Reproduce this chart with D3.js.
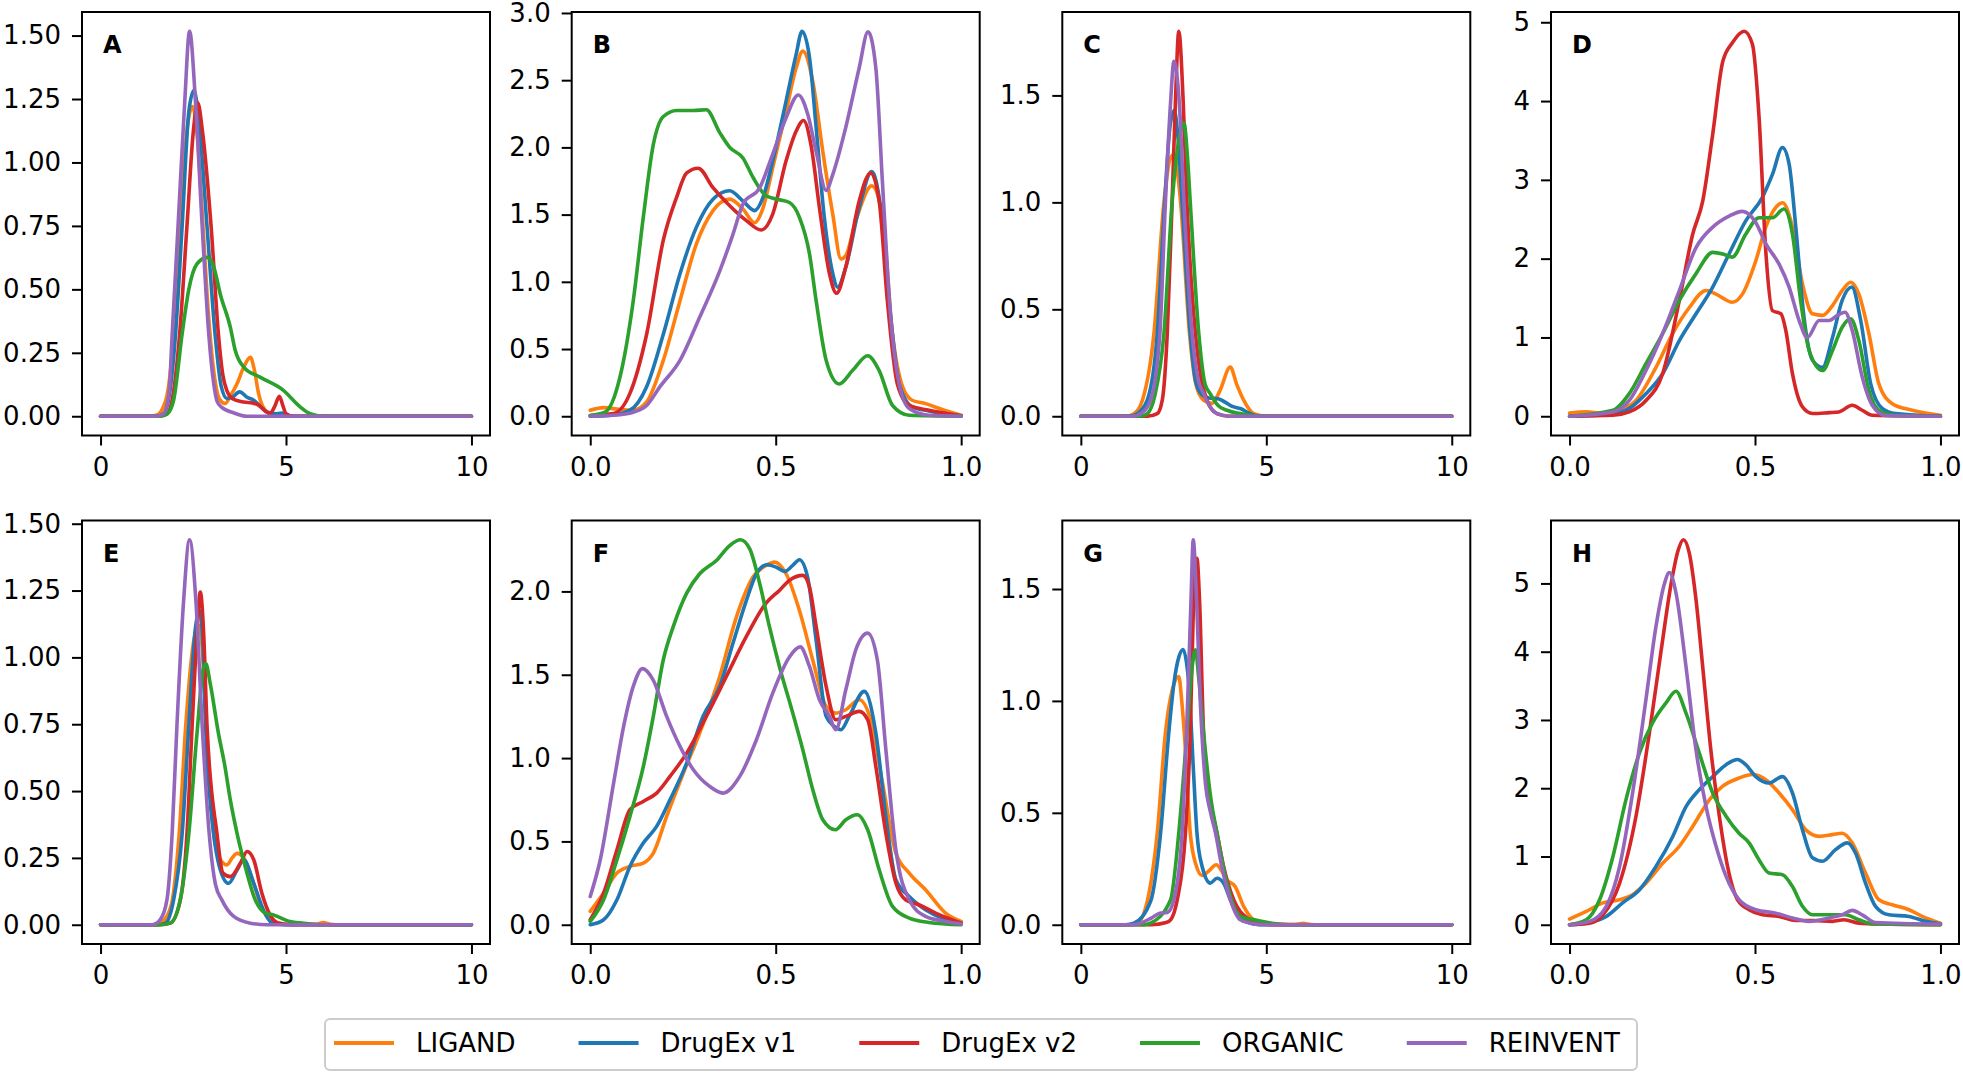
<!DOCTYPE html>
<html><head><meta charset="utf-8">
<script src="https://cdn.jsdelivr.net/npm/d3@7/dist/d3.min.js"></script>
<style>
body{margin:0;background:#fff;}
svg{display:block;}
text{font-family:"DejaVu Sans",sans-serif;fill:#000;}
</style>
</head><body>
<svg id="chart" width="1963" height="1074"></svg>
<script>
// ---------------- DATA ----------------
const seriesNames = ["LIGAND", "DrugEx v1", "DrugEx v2", "ORGANIC", "REINVENT"];
const seriesColors = ["#ff7f0e", "#1f77b4", "#d62728", "#2ca02c", "#9467bd"];
const panelLabels = ["A", "B", "C", "D", "E", "F", "G", "H"];
const xTicksWide = [0, 5, 10];
const xTicksUnit = [0.0, 0.5, 1.0];
const yTicksA = [0, 0.25, 0.5, 0.75, 1.0, 1.25, 1.5];
const yTicksB = [0, 0.5, 1.0, 1.5, 2.0, 2.5, 3.0];
const yTicksC = [0, 0.5, 1.0, 1.5];
const yTicksD = [0, 1, 2, 3, 4, 5];
const yTicksE = [0, 0.25, 0.5, 0.75, 1.0, 1.25, 1.5];
const yTicksF = [0, 0.5, 1.0, 1.5, 2.0];
const yTicksG = [0, 0.5, 1.0, 1.5];
const yTicksH = [0, 1, 2, 3, 4, 5];

// each panel: [LIGAND, DrugEx v1, DrugEx v2, ORGANIC, REINVENT], points are [x, density]
const dataA = [
  [[0,0],[1.3,0],[1.52,0.005],[1.7,0.04],[1.79,0.08],[1.93,0.25],[2.05,0.55],[2.2,0.9],[2.35,1.15],[2.48,1.22],[2.6,1.12],[2.75,0.78],[2.9,0.42],[3.05,0.18],[3.2,0.07],[3.36,0.05],[3.5,0.08],[3.68,0.128],[3.85,0.19],[4.04,0.232],[4.15,0.18],[4.26,0.09],[4.44,0.024],[4.7,0.003],[5,0],[10,0]],
  [[0,0],[1.5,0],[1.7,0.01],[1.85,0.08],[2.02,0.32],[2.2,0.75],[2.38,1.2],[2.52,1.284],[2.66,1.15],[2.87,0.75],[3.09,0.32],[3.25,0.12],[3.41,0.07],[3.55,0.075],[3.75,0.096],[3.95,0.075],[4.13,0.063],[4.3,0.04],[4.48,0.017],[4.75,0.01],[4.93,0.013],[5.1,0.002],[5.4,0],[10,0]],
  [[0,0],[1.6,0],[1.8,0.01],[1.95,0.08],[2.13,0.32],[2.33,0.75],[2.5,1.12],[2.62,1.235],[2.75,1.12],[2.98,0.75],[3.18,0.32],[3.3,0.16],[3.41,0.1],[3.55,0.07],[3.86,0.056],[4.1,0.052],[4.25,0.045],[4.45,0.02],[4.57,0.012],[4.7,0.04],[4.82,0.079],[4.92,0.04],[5.0,0.01],[5.2,0],[10,0]],
  [[0,0],[1.6,0],[1.8,0.01],[1.97,0.063],[2.2,0.325],[2.38,0.5],[2.6,0.6],[2.88,0.626],[3.05,0.59],[3.23,0.48],[3.5,0.35],[3.63,0.26],[3.86,0.194],[4.3,0.154],[4.93,0.102],[5.38,0.037],[5.65,0.01],[6,0],[10,0]],
  [[0,0],[1.5,0],[1.7,0.01],[1.85,0.1],[1.93,0.32],[2.09,0.75],[2.27,1.24],[2.40,1.517],[2.56,1.24],[2.74,0.75],[2.92,0.32],[3.05,0.13],[3.14,0.06],[3.27,0.035],[3.6,0.013],[3.95,0],[10,0]]
];
const dataB = [
  [[0,0.045],[0.036,0.064],[0.08,0.05],[0.116,0.045],[0.152,0.106],[0.197,0.416],[0.242,0.86],[0.286,1.28],[0.331,1.53],[0.376,1.615],[0.412,1.54],[0.443,1.44],[0.466,1.55],[0.492,1.85],[0.528,2.27],[0.555,2.59],[0.573,2.716],[0.6,2.49],[0.627,1.97],[0.654,1.5],[0.676,1.17],[0.689,1.195],[0.716,1.454],[0.759,1.714],[0.788,1.48],[0.815,0.61],[0.842,0.22],[0.868,0.119],[0.904,0.094],[0.949,0.05],[1.0,0.007]],
  [[0,0],[0.05,0.005],[0.107,0.045],[0.152,0.22],[0.197,0.61],[0.242,1.06],[0.286,1.405],[0.331,1.615],[0.376,1.677],[0.412,1.6],[0.443,1.53],[0.466,1.63],[0.492,1.9],[0.528,2.345],[0.555,2.69],[0.571,2.864],[0.591,2.67],[0.609,2.15],[0.631,1.48],[0.654,1.06],[0.667,0.96],[0.689,1.11],[0.725,1.55],[0.759,1.82],[0.783,1.55],[0.81,0.737],[0.833,0.24],[0.868,0.07],[0.913,0.04],[1.0,0.003]],
  [[0,0.005],[0.063,0.02],[0.107,0.17],[0.152,0.61],[0.197,1.31],[0.233,1.63],[0.26,1.81],[0.291,1.845],[0.331,1.7],[0.376,1.566],[0.421,1.455],[0.461,1.385],[0.492,1.504],[0.528,1.9],[0.555,2.12],[0.575,2.2],[0.595,2.02],[0.618,1.55],[0.645,1.06],[0.664,0.915],[0.689,1.11],[0.725,1.6],[0.756,1.81],[0.779,1.6],[0.801,0.86],[0.828,0.24],[0.86,0.08],[0.913,0.045],[1.0,0.003]],
  [[0,0.005],[0.04,0.03],[0.08,0.29],[0.116,0.86],[0.143,1.48],[0.17,2.02],[0.197,2.23],[0.233,2.275],[0.278,2.275],[0.313,2.28],[0.349,2.11],[0.376,2.0],[0.412,1.92],[0.439,1.776],[0.474,1.64],[0.51,1.61],[0.537,1.59],[0.564,1.48],[0.591,1.21],[0.609,0.86],[0.636,0.416],[0.671,0.24],[0.707,0.34],[0.748,0.45],[0.779,0.34],[0.815,0.08],[0.86,0.007],[1.0,0]],
  [[0,0],[0.063,0.007],[0.116,0.03],[0.152,0.08],[0.188,0.22],[0.242,0.416],[0.295,0.737],[0.349,1.08],[0.385,1.355],[0.412,1.58],[0.457,1.7],[0.492,1.95],[0.528,2.22],[0.561,2.39],[0.586,2.25],[0.609,1.97],[0.636,1.68],[0.654,1.8],[0.689,2.15],[0.725,2.59],[0.749,2.86],[0.77,2.59],[0.788,1.73],[0.81,0.737],[0.833,0.24],[0.86,0.057],[0.913,0.007],[1.0,0]]
];
const dataC = [
  [[0,0],[1.2,0],[1.43,0.012],[1.66,0.075],[1.97,0.386],[2.24,1.0],[2.4,1.2],[2.51,1.225],[2.6,1.15],[2.69,1.0],[2.93,0.386],[3.1,0.15],[3.31,0.075],[3.54,0.06],[3.75,0.12],[4.03,0.23],[4.2,0.15],[4.39,0.075],[4.66,0.012],[5,0],[10,0]],
  [[0,0],[1.3,0],[1.52,0.012],[1.79,0.075],[2.06,0.386],[2.26,1.0],[2.4,1.35],[2.52,1.43],[2.62,1.3],[2.73,1.0],[2.95,0.386],[3.1,0.16],[3.27,0.1],[3.45,0.085],[3.7,0.082],[3.9,0.065],[4.1,0.045],[4.3,0.036],[4.57,0.012],[4.8,0],[10,0]],
  [[0,0],[1.8,0],[2.06,0.012],[2.2,0.08],[2.33,0.386],[2.46,1.0],[2.55,1.47],[2.64,1.8],[2.76,1.47],[2.86,1.0],[3.09,0.386],[3.25,0.17],[3.4,0.075],[3.67,0.012],[4,0],[10,0]],
  [[0,0],[1.6,0],[1.79,0.012],[2.0,0.1],[2.24,0.386],[2.46,1.0],[2.65,1.3],[2.78,1.37],[2.88,1.2],[2.95,1.0],[3.18,0.386],[3.35,0.15],[3.49,0.105],[3.7,0.05],[3.94,0.028],[4.57,0.005],[5,0],[10,0]],
  [[0,0],[1.4,0],[1.61,0.012],[1.88,0.075],[2.13,0.386],[2.28,1.0],[2.42,1.47],[2.51,1.66],[2.6,1.58],[2.66,1.45],[2.78,1.0],[3.0,0.386],[3.15,0.18],[3.31,0.106],[3.5,0.04],[3.67,0.012],[4,0],[10,0]]
];
const dataD = [
  [[0,0.04],[0.045,0.055],[0.09,0.04],[0.135,0.076],[0.179,0.2],[0.233,0.62],[0.278,1.05],[0.323,1.38],[0.368,1.595],[0.395,1.55],[0.439,1.447],[0.466,1.55],[0.502,1.97],[0.529,2.4],[0.556,2.65],[0.574,2.71],[0.601,2.4],[0.628,1.68],[0.655,1.3],[0.682,1.28],[0.709,1.405],[0.735,1.595],[0.758,1.7],[0.78,1.55],[0.807,1.05],[0.834,0.41],[0.87,0.16],[0.924,0.076],[1.0,0.013]],
  [[0,0],[0.117,0.03],[0.161,0.1],[0.206,0.287],[0.251,0.54],[0.296,0.96],[0.341,1.3],[0.386,1.64],[0.43,2.06],[0.475,2.48],[0.52,2.78],[0.547,3.07],[0.574,3.41],[0.592,3.2],[0.61,2.4],[0.632,1.26],[0.655,0.71],[0.682,0.62],[0.709,1.0],[0.735,1.47],[0.761,1.64],[0.785,1.215],[0.812,0.41],[0.843,0.1],[0.879,0.034],[1.0,0]],
  [[0,0],[0.117,0.013],[0.161,0.055],[0.206,0.2],[0.251,0.54],[0.296,1.47],[0.332,2.31],[0.359,2.73],[0.386,3.58],[0.413,4.5],[0.439,4.74],[0.471,4.886],[0.493,4.72],[0.511,3.79],[0.529,2.1],[0.547,1.34],[0.57,1.3],[0.583,1.09],[0.601,0.54],[0.628,0.118],[0.655,0.034],[0.7,0.046],[0.726,0.055],[0.762,0.14],[0.789,0.076],[0.816,0.013],[1.0,0]],
  [[0,0],[0.117,0.076],[0.161,0.287],[0.206,0.667],[0.251,1.05],[0.296,1.47],[0.341,1.81],[0.386,2.08],[0.413,2.06],[0.439,2.02],[0.475,2.31],[0.511,2.52],[0.547,2.52],[0.578,2.63],[0.601,2.31],[0.623,1.47],[0.646,0.835],[0.682,0.58],[0.709,0.835],[0.735,1.13],[0.758,1.236],[0.78,0.96],[0.807,0.33],[0.834,0.076],[0.879,0.01],[1.0,0]],
  [[0,0],[0.117,0.055],[0.161,0.2],[0.206,0.58],[0.251,1.05],[0.296,1.595],[0.341,2.14],[0.386,2.4],[0.43,2.54],[0.466,2.6],[0.502,2.46],[0.529,2.19],[0.565,1.93],[0.592,1.64],[0.619,1.215],[0.641,1.0],[0.673,1.215],[0.7,1.215],[0.722,1.28],[0.743,1.32],[0.762,1.09],[0.789,0.5],[0.816,0.14],[0.852,0.01],[1.0,0]]
];
const dataE = [
  [[0,0],[1.4,0],[1.65,0.01],[1.9,0.07],[2.12,0.34],[2.3,0.75],[2.5,1.05],[2.64,1.12],[2.75,1.02],[2.85,0.75],[3.05,0.34],[3.2,0.25],[3.41,0.224],[3.55,0.25],[3.68,0.267],[3.86,0.25],[4.13,0.155],[4.3,0.08],[4.57,0.02],[5,0.003],[5.8,0.002],[6.0,0.008],[6.2,0.002],[6.5,0],[10,0]],
  [[0,0],[1.5,0],[1.75,0.006],[1.97,0.093],[2.2,0.34],[2.38,0.746],[2.55,1.1],[2.67,1.175],[2.75,1.08],[2.83,0.746],[3.05,0.34],[3.2,0.22],[3.45,0.155],[3.68,0.205],[3.86,0.243],[4.13,0.155],[4.39,0.056],[4.6,0.01],[5,0],[10,0]],
  [[0,0],[1.6,0],[1.88,0.006],[2.15,0.093],[2.33,0.34],[2.47,0.746],[2.6,1.09],[2.69,1.244],[2.78,1.09],[2.87,0.746],[3.14,0.34],[3.3,0.193],[3.5,0.18],[3.77,0.23],[3.95,0.274],[4.13,0.243],[4.35,0.118],[4.57,0.037],[4.8,0.006],[5.2,0],[10,0]],
  [[0,0],[1.6,0],[1.88,0.006],[2.15,0.093],[2.38,0.34],[2.6,0.715],[2.78,0.964],[2.84,0.976],[2.96,0.9],[3.18,0.715],[3.34,0.603],[3.5,0.466],[3.68,0.342],[3.9,0.218],[4.17,0.093],[4.44,0.044],[4.66,0.037],[5.11,0.012],[5.6,0.004],[6,0],[10,0]],
  [[0,0],[1.4,0],[1.61,0.019],[1.79,0.093],[1.93,0.34],[2.06,0.746],[2.24,1.213],[2.40,1.44],[2.57,1.213],[2.74,0.746],[2.93,0.34],[3.1,0.15],[3.27,0.093],[3.59,0.031],[4.04,0.006],[4.5,0],[10,0]]
];
const dataF = [
  [[0,0.08],[0.036,0.19],[0.072,0.31],[0.107,0.35],[0.143,0.37],[0.17,0.43],[0.206,0.65],[0.251,0.91],[0.295,1.15],[0.349,1.49],[0.394,1.846],[0.439,2.086],[0.474,2.156],[0.497,2.176],[0.528,2.106],[0.564,1.886],[0.6,1.587],[0.636,1.31],[0.662,1.27],[0.689,1.29],[0.725,1.35],[0.756,1.23],[0.788,0.85],[0.824,0.43],[0.86,0.31],[0.904,0.21],[0.958,0.07],[1.0,0.02]],
  [[0,0],[0.036,0.03],[0.072,0.15],[0.107,0.35],[0.143,0.49],[0.179,0.59],[0.215,0.75],[0.26,0.97],[0.304,1.25],[0.349,1.43],[0.385,1.69],[0.421,1.946],[0.448,2.106],[0.476,2.16],[0.501,2.146],[0.524,2.12],[0.546,2.156],[0.564,2.19],[0.586,2.086],[0.609,1.707],[0.636,1.25],[0.658,1.19],[0.676,1.17],[0.698,1.25],[0.739,1.4],[0.77,1.15],[0.797,0.65],[0.824,0.27],[0.86,0.17],[0.904,0.09],[1.0,0.01]],
  [[0,0.03],[0.036,0.19],[0.072,0.45],[0.107,0.69],[0.143,0.74],[0.179,0.79],[0.215,0.89],[0.26,1.03],[0.313,1.25],[0.367,1.49],[0.421,1.73],[0.474,1.93],[0.51,2.006],[0.537,2.066],[0.573,2.096],[0.591,2.026],[0.609,1.79],[0.636,1.43],[0.662,1.23],[0.689,1.25],[0.725,1.28],[0.748,1.23],[0.77,0.95],[0.797,0.55],[0.824,0.25],[0.85,0.15],[0.886,0.12],[0.931,0.07],[1.0,0.01]],
  [[0,0.02],[0.036,0.15],[0.072,0.39],[0.107,0.65],[0.143,0.948],[0.17,1.25],[0.197,1.59],[0.224,1.79],[0.26,1.99],[0.295,2.106],[0.34,2.186],[0.376,2.275],[0.405,2.31],[0.43,2.255],[0.457,2.046],[0.483,1.79],[0.51,1.55],[0.546,1.27],[0.573,1.05],[0.6,0.81],[0.627,0.63],[0.661,0.57],[0.689,0.63],[0.72,0.66],[0.748,0.57],[0.779,0.33],[0.815,0.11],[0.86,0.04],[0.913,0.014],[1.0,0]],
  [[0,0.17],[0.027,0.39],[0.063,0.85],[0.09,1.19],[0.116,1.43],[0.141,1.537],[0.17,1.467],[0.206,1.25],[0.242,1.07],[0.278,0.93],[0.322,0.83],[0.358,0.79],[0.403,0.89],[0.448,1.11],[0.492,1.39],[0.537,1.607],[0.566,1.667],[0.591,1.55],[0.618,1.35],[0.645,1.25],[0.662,1.17],[0.689,1.41],[0.716,1.65],[0.748,1.75],[0.774,1.59],[0.797,1.05],[0.824,0.45],[0.86,0.15],[0.904,0.05],[0.958,0.02],[1.0,0.005]]
];
const dataG = [
  [[0,0],[1.3,0],[1.52,0.007],[1.79,0.104],[2.06,0.41],[2.28,0.856],[2.5,1.07],[2.64,1.109],[2.72,1.0],[2.79,0.856],[2.95,0.41],[3.1,0.27],[3.27,0.22],[3.45,0.24],[3.65,0.268],[3.8,0.24],[3.94,0.2],[4.16,0.171],[4.39,0.082],[4.66,0.022],[5.0,0.005],[5.8,0.002],[6.0,0.006],[6.2,0.001],[6.5,0],[10,0]],
  [[0,0],[1.2,0],[1.43,0.007],[1.88,0.104],[2.15,0.41],[2.37,0.856],[2.51,1.079],[2.65,1.2],[2.76,1.23],[2.85,1.17],[2.91,1.079],[3.03,0.707],[3.13,0.41],[3.27,0.26],[3.49,0.186],[3.67,0.208],[3.85,0.186],[4.03,0.112],[4.3,0.037],[4.66,0.004],[5,0],[10,0]],
  [[0,0],[1.9,0],[2.3,0.01],[2.42,0.022],[2.6,0.112],[2.82,0.41],[2.95,0.856],[3.04,1.45],[3.13,1.637],[3.2,1.45],[3.31,0.856],[3.49,0.558],[3.67,0.41],[3.85,0.26],[4.12,0.112],[4.48,0.03],[4.83,0.007],[5.2,0],[10,0]],
  [[0,0],[1.7,0],[1.88,0.007],[2.42,0.112],[2.64,0.41],[2.86,0.856],[3.0,1.15],[3.09,1.228],[3.18,1.1],[3.31,0.856],[3.51,0.558],[3.67,0.41],[3.94,0.186],[4.3,0.037],[4.74,0.02],[5.2,0.005],[5.6,0],[10,0]],
  [[0,0],[1.4,0],[1.61,0.007],[1.9,0.03],[2.15,0.052],[2.33,0.055],[2.51,0.112],[2.73,0.41],[2.88,1.0],[2.97,1.45],[3.03,1.72],[3.12,1.45],[3.22,1.0],[3.36,0.63],[3.49,0.506],[3.63,0.41],[3.8,0.26],[4.03,0.112],[4.3,0.022],[4.66,0.004],[5,0],[10,0]]
];
const dataH = [
  [[0,0.083],[0.045,0.195],[0.09,0.32],[0.135,0.366],[0.17,0.44],[0.206,0.61],[0.251,0.9],[0.296,1.15],[0.332,1.44],[0.377,1.83],[0.413,2.03],[0.457,2.15],[0.493,2.2],[0.529,2.125],[0.565,1.93],[0.601,1.685],[0.637,1.39],[0.673,1.295],[0.709,1.32],[0.735,1.34],[0.762,1.2],[0.798,0.757],[0.834,0.366],[0.87,0.293],[0.915,0.22],[0.96,0.1],[1.0,0.024]],
  [[0,0],[0.054,0.034],[0.099,0.122],[0.143,0.32],[0.188,0.51],[0.233,0.855],[0.278,1.29],[0.314,1.73],[0.35,1.98],[0.386,2.17],[0.422,2.345],[0.453,2.42],[0.475,2.345],[0.502,2.17],[0.538,2.076],[0.574,2.17],[0.601,1.93],[0.628,1.39],[0.655,0.98],[0.682,0.93],[0.717,1.1],[0.749,1.2],[0.771,1.05],[0.798,0.61],[0.825,0.27],[0.861,0.146],[0.915,0.122],[0.96,0.05],[1.0,0.015]],
  [[0,0],[0.054,0.024],[0.09,0.146],[0.135,0.61],[0.179,1.586],[0.215,2.8],[0.247,4.02],[0.274,5.0],[0.293,5.49],[0.307,5.64],[0.323,5.44],[0.341,4.76],[0.359,3.78],[0.381,2.56],[0.404,1.586],[0.426,0.855],[0.453,0.366],[0.484,0.22],[0.52,0.146],[0.565,0.122],[0.61,0.063],[0.655,0.063],[0.709,0.05],[0.74,0.073],[0.78,0.024],[0.834,0.01],[1.0,0]],
  [[0,0],[0.045,0.073],[0.081,0.366],[0.117,1.0],[0.152,1.83],[0.188,2.51],[0.224,2.96],[0.26,3.25],[0.287,3.42],[0.314,3.1],[0.35,2.51],[0.386,1.93],[0.422,1.59],[0.457,1.34],[0.484,1.2],[0.511,0.95],[0.538,0.757],[0.574,0.733],[0.601,0.56],[0.628,0.27],[0.655,0.146],[0.7,0.146],[0.744,0.146],[0.78,0.073],[0.816,0.015],[1.0,0]],
  [[0,0],[0.054,0.049],[0.099,0.27],[0.135,0.855],[0.17,1.93],[0.206,3.3],[0.233,4.37],[0.256,5.0],[0.269,5.16],[0.287,4.86],[0.314,3.78],[0.341,2.56],[0.368,1.73],[0.395,1.15],[0.422,0.71],[0.457,0.366],[0.502,0.22],[0.556,0.17],[0.601,0.1],[0.646,0.05],[0.7,0.1],[0.735,0.146],[0.762,0.21],[0.789,0.146],[0.825,0.034],[1.0,0.01]]
];

// ---------------- LAYOUT ----------------
const panelData = [dataA, dataB, dataC, dataD, dataE, dataF, dataG, dataH];
const panelYTicks = [yTicksA, yTicksB, yTicksC, yTicksD, yTicksE, yTicksF, yTicksG, yTicksH];
const panelYFormat = [".2f", ".1f", ".1f", "d", ".2f", ".1f", ".1f", "d"];
const panelWide = [true, false, true, false, true, false, true, false];

const colLeft = [82, 571.7, 1062.3, 1551];
const rowTop = [12, 520.5];
const PW = 408, PH = 423.5;
const FONT = 26;

const svg = d3.select("#chart");

panelData.forEach((series, i) => {
  const col = i % 4, row = Math.floor(i / 4);
  const g = svg.append("g").attr("transform", `translate(${colLeft[col]},${rowTop[row]})`);
  const wide = panelWide[i];
  const x = d3.scaleLinear().domain(wide ? [-0.5, 10.5] : [-0.05, 1.05]).range([0, PW]);
  const yMax = d3.max(series, s => d3.max(s, p => p[1]));
  const y = d3.scaleLinear().domain([-0.05 * yMax, 1.05 * yMax]).range([PH, 0]);

  const line = d3.line().x(p => x(p[0])).y(p => y(p[1])).curve(d3.curveMonotoneX);
  series.forEach((s, k) => {
    g.append("path").datum(s).attr("d", line)
      .attr("fill", "none").attr("stroke", seriesColors[k])
      .attr("stroke-width", 3.6).attr("stroke-linejoin", "round").attr("stroke-linecap", "round");
  });

  const xAxis = d3.axisBottom(x).tickValues(wide ? xTicksWide : xTicksUnit)
    .tickFormat(wide ? d3.format("d") : d3.format(".1f")).tickSize(10).tickPadding(12);
  const yAxis = d3.axisLeft(y).tickValues(panelYTicks[i])
    .tickFormat(d3.format(panelYFormat[i])).tickSize(10).tickPadding(11);

  const gx = g.append("g").attr("transform", `translate(0,${PH})`).call(xAxis);
  const gy = g.append("g").call(yAxis);
  [gx, gy].forEach(a => {
    a.select(".domain").remove();
    a.selectAll(".tick line").attr("stroke", "#000").attr("stroke-width", 2);
    a.selectAll(".tick text").attr("font-size", FONT).attr("font-family", "DejaVu Sans").attr("fill", "#000");
  });

  g.append("rect").attr("x", 0).attr("y", 0).attr("width", PW).attr("height", PH)
    .attr("fill", "none").attr("stroke", "#000").attr("stroke-width", 2);

  g.append("text").attr("x", 21).attr("y", 41).attr("font-size", 24).attr("font-weight", "bold")
    .text(panelLabels[i]);
});

// ---------------- LEGEND ----------------
const leg = svg.append("g");
leg.append("rect").attr("x", 325).attr("y", 1019).attr("width", 1312).attr("height", 51)
  .attr("rx", 5).attr("fill", "#fff").attr("stroke", "#cccccc").attr("stroke-width", 2);
let lx = 334;
const ly = 1043;
seriesNames.forEach((name, k) => {
  leg.append("line").attr("x1", lx).attr("x2", lx + 60).attr("y1", ly).attr("y2", ly)
    .attr("stroke", seriesColors[k]).attr("stroke-width", 4);
  const t = leg.append("text").attr("x", lx + 82).attr("y", ly).attr("dy", "0.36em")
    .attr("font-size", FONT).text(name);
  const w = t.node().getComputedTextLength();
  lx = lx + 82 + w + 63;
});
</script>
</body></html>
